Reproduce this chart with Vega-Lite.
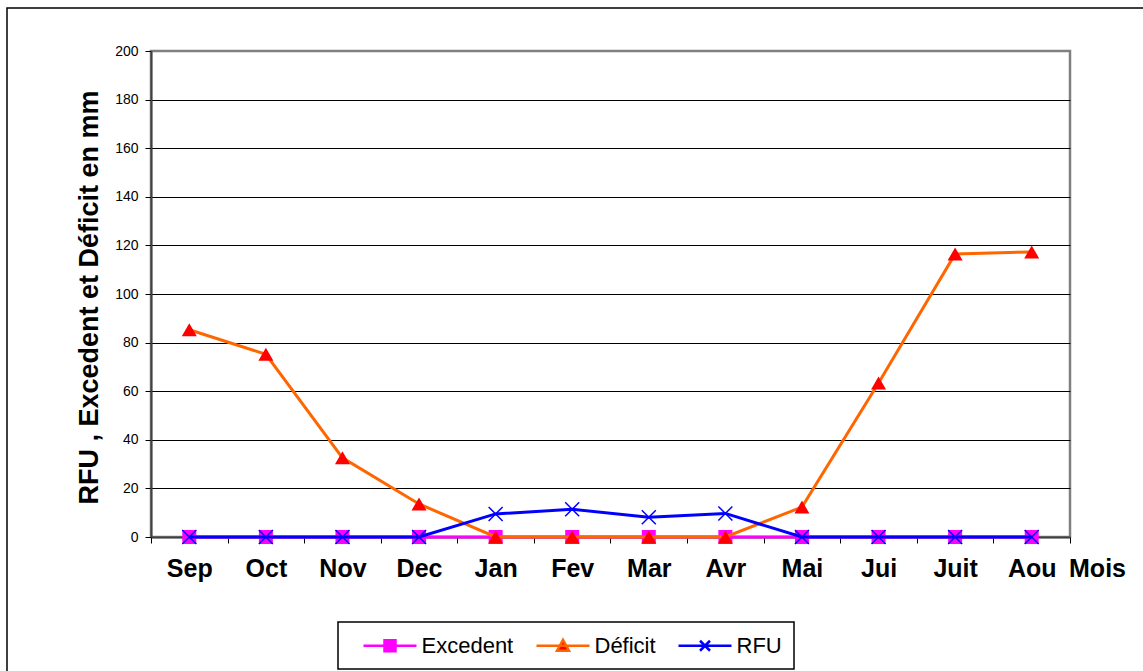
{
  "$schema": "https://vega.github.io/schema/vega-lite/v6.json",
  "width": 919,
  "height": 486,
  "autosize": {"type": "none"},
  "padding": {"left": 151, "top": 51, "right": 73, "bottom": 134},
  "background": "white",
  "config": {"font": "Liberation Sans", "view": {"stroke": "#808080", "strokeWidth": 2.5}},
  "data": {"values": [
    {"mois": "Sep", "serie": "Excedent", "valeur": 0},
    {"mois": "Oct", "serie": "Excedent", "valeur": 0},
    {"mois": "Nov", "serie": "Excedent", "valeur": 0},
    {"mois": "Dec", "serie": "Excedent", "valeur": 0},
    {"mois": "Jan", "serie": "Excedent", "valeur": 0},
    {"mois": "Fev", "serie": "Excedent", "valeur": 0},
    {"mois": "Mar", "serie": "Excedent", "valeur": 0},
    {"mois": "Avr", "serie": "Excedent", "valeur": 0},
    {"mois": "Mai", "serie": "Excedent", "valeur": 0},
    {"mois": "Jui", "serie": "Excedent", "valeur": 0},
    {"mois": "Juit", "serie": "Excedent", "valeur": 0},
    {"mois": "Aou", "serie": "Excedent", "valeur": 0},
    {"mois": "Sep", "serie": "Déficit", "valeur": 85.3},
    {"mois": "Oct", "serie": "Déficit", "valeur": 75.2},
    {"mois": "Nov", "serie": "Déficit", "valeur": 32.6},
    {"mois": "Dec", "serie": "Déficit", "valeur": 13.6},
    {"mois": "Jan", "serie": "Déficit", "valeur": 0},
    {"mois": "Fev", "serie": "Déficit", "valeur": 0},
    {"mois": "Mar", "serie": "Déficit", "valeur": 0},
    {"mois": "Avr", "serie": "Déficit", "valeur": 0},
    {"mois": "Mai", "serie": "Déficit", "valeur": 12.3},
    {"mois": "Jui", "serie": "Déficit", "valeur": 63.4},
    {"mois": "Juit", "serie": "Déficit", "valeur": 116.5},
    {"mois": "Aou", "serie": "Déficit", "valeur": 117.3},
    {"mois": "Sep", "serie": "RFU", "valeur": 0},
    {"mois": "Oct", "serie": "RFU", "valeur": 0},
    {"mois": "Nov", "serie": "RFU", "valeur": 0},
    {"mois": "Dec", "serie": "RFU", "valeur": 0},
    {"mois": "Jan", "serie": "RFU", "valeur": 9.5},
    {"mois": "Fev", "serie": "RFU", "valeur": 11.4},
    {"mois": "Mar", "serie": "RFU", "valeur": 8.1},
    {"mois": "Avr", "serie": "RFU", "valeur": 9.7},
    {"mois": "Mai", "serie": "RFU", "valeur": 0},
    {"mois": "Jui", "serie": "RFU", "valeur": 0},
    {"mois": "Juit", "serie": "RFU", "valeur": 0},
    {"mois": "Aou", "serie": "RFU", "valeur": 0}
  ]},
  "encoding": {
    "x": {
      "field": "mois", "type": "nominal",
      "sort": ["Sep", "Oct", "Nov", "Dec", "Jan", "Fev", "Mar", "Avr", "Mai", "Jui", "Juit", "Aou"],
      "scale": {"type": "band", "paddingInner": 0, "paddingOuter": 0},
      "axis": {
        "title": "Mois", "titleFontSize": 25, "titleFontWeight": "bold", "titleColor": "black",
        "titleX": 946, "titleY": 39, "titleBaseline": "alphabetic", "titleAlign": "center",
        "labelAngle": 0, "labelFontSize": 25, "labelFontWeight": "bold", "labelColor": "black",
        "labelPadding": 13, "tickBand": "extent", "tickColor": "black", "tickSize": 6,
        "domainColor": "#404040", "domainWidth": 2, "grid": false
      }
    },
    "y": {
      "field": "valeur", "type": "quantitative",
      "scale": {"domain": [0, 200], "nice": false},
      "axis": {
        "values": [0, 20, 40, 60, 80, 100, 120, 140, 160, 180, 200],
        "title": "RFU , Excedent et Déficit en mm", "titleFontSize": 27, "titleFontWeight": "bold",
        "titleColor": "black", "titleX": -62, "titleY": 246, "titleBaseline": "middle", "titleAlign": "center",
        "labelFontSize": 14, "labelColor": "black", "labelPadding": 7,
        "tickSize": 6, "tickColor": "black", "domainColor": "#404040", "domainWidth": 2,
        "gridColor": {"condition": {"test": "datum.value === 200", "value": "#808080"}, "value": "black"},
        "gridWidth": 1
      }
    }
  },
  "layer": [
    {
      "data": {"values": [{"mois": "Sep", "valeur": 0, "cadre": 0}]},
      "mark": {"type": "point", "opacity": 0},
      "encoding": {
        "fill": {
          "field": "cadre", "type": "quantitative",
          "scale": {"domain": [0, 1], "range": ["rgba(255,255,255,0)", "rgba(255,255,255,0)"]},
          "legend": {
            "type": "gradient", "orient": "none", "legendX": -144, "legendY": -43, "direction": "vertical",
            "gradientLength": 680, "gradientThickness": 1150, "labels": false, "title": null,
            "gradientStrokeColor": "black", "gradientStrokeWidth": 1.5, "padding": 0
          }
        }
      }
    },
    {
      "transform": [{"filter": "datum.serie === 'Excedent'"}],
      "mark": {"type": "line", "strokeWidth": 3},
      "encoding": {
        "color": {
          "field": "serie", "type": "nominal",
          "scale": {"domain": ["Excedent", "Déficit", "RFU"], "range": ["#FF00FF", "#FF6600", "#0000FF"]},
          "legend": {
            "title": null, "orient": "none", "legendX": 187, "legendY": 571, "direction": "horizontal",
            "strokeColor": "black", "fillColor": "white", "padding": 12,
            "symbolOffset": 28.5, "symbolSize": 400, "symbolStrokeWidth": 2.5,
            "labelFontSize": 22, "labelColor": "black", "labelOffset": 20, "columnPadding": 9, "labelLimit": 300,
            "encode": {
              "legend": {"update": {"strokeWidth": {"value": 1.5}}},
              "symbols": {
                "update": {
                  "shape": {"signal": "datum.value === 'Excedent' ? 'M-2.65,0H2.65M-0.55,-0.55H0.55V0.55H-0.55Z' : datum.value === 'RFU' ? 'M-2.65,0H2.65M-0.5,-0.5L0.5,0.5M-0.5,0.5L0.5,-0.5' : 'M-2.65,0H2.65M0,-0.6L0.6,0.5L-0.6,0.5Z'"},
                  "fill": {"signal": "datum.value === 'Excedent' ? '#FF00FF' : datum.value === 'RFU' ? 'transparent' : '#FF0000'"},
                  "stroke": {"signal": "datum.value === 'Excedent' ? '#FF00FF' : datum.value === 'RFU' ? '#0000FF' : '#FF6600'"},
                  "strokeWidth": {"value": 2.5}
                }
              }
            }
          }
        }
      }
    },
    {
      "transform": [{"filter": "datum.serie === 'Excedent'"}],
      "mark": {"type": "point", "shape": "square", "filled": true, "color": "#FF00FF", "opacity": 1, "size": 196}
    },
    {
      "transform": [{"filter": "datum.serie === 'Déficit'"}],
      "mark": {"type": "line", "strokeWidth": 3},
      "encoding": {"color": {"field": "serie", "type": "nominal"}}
    },
    {
      "transform": [{"filter": "datum.serie === 'Déficit'"}],
      "mark": {"type": "point", "shape": "triangle-up", "filled": true, "color": "#FF0000", "opacity": 1, "size": 225}
    },
    {
      "transform": [{"filter": "datum.serie === 'RFU'"}],
      "mark": {"type": "line", "strokeWidth": 3},
      "encoding": {"color": {"field": "serie", "type": "nominal"}}
    },
    {
      "transform": [{"filter": "datum.serie === 'RFU'"}],
      "mark": {"type": "point", "shape": "M-1,-1L1,1M-1,1L1,-1", "filled": false, "stroke": "#0000FF", "strokeWidth": 1.5, "opacity": 1, "size": 196}
    }
  ]
}
